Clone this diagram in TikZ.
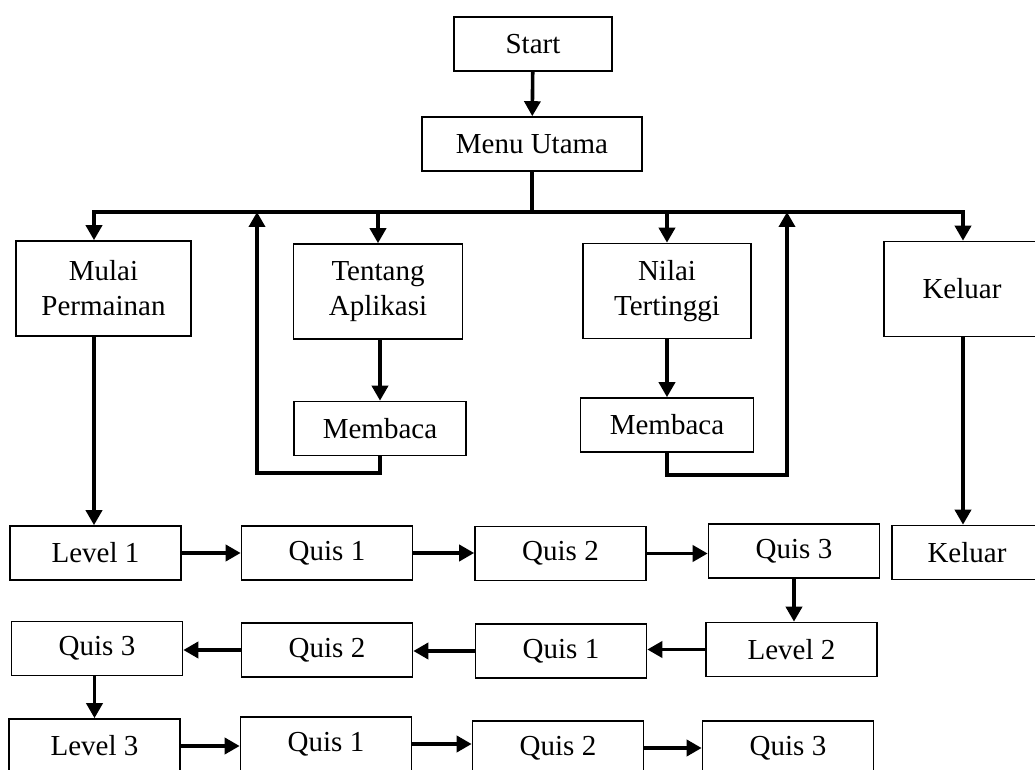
\documentclass[tikz,border=0pt]{standalone}
\usepackage{fontspec}
\setmainfont{Liberation Serif}
\usetikzlibrary{arrows.meta}

\begin{document}
\begin{tikzpicture}[x=0.5pt,y=-0.5pt]
                        \tikzstyle{box}=[draw,line width=0.8pt,inner sep=0pt,align=center,font=\fontsize{14.5}{17.5}\selectfont]
                        \tikzstyle{small}=[box,minimum width=85.5pt,minimum height=27pt]
                        \tikzstyle{tall}=[box,minimum width=85pt,minimum height=47.5pt]
                        \tikzstyle{arr}=[line width=1.8pt,-{Triangle[width=8pt,length=7.5pt]}]
                        \clip[use as bounding box] (0,0) rectangle (1035,770);
                        \node[box,minimum width=79pt,minimum height=27pt] (start) at (533,44) {Start};
                        \node[box,minimum width=110pt,minimum height=27pt] (menu) at (532,144) {Menu Utama};
                        \node[tall,minimum width=87.5pt] (mulai) at (103.5,288.5) {Mulai\\Permainan};
                        \node[tall,minimum width=84.5pt] (tentang) at (378,291.5) {Tentang\\Aplikasi};
                        \node[small,minimum width=86pt] (membacaA) at (380,428.5) {Membaca};
                        \node[tall,minimum width=84pt] (nilai) at (667,291) {Nilai\\Tertinggi};
                        \node[small,minimum width=86.5pt] (membacaB) at (667,425) {Membaca};
                        \node[tall,minimum width=78pt] (keluarA) at (962,289) {Keluar};
                        \node[small,minimum width=75pt] (keluarB) at (967,552.5) {Keluar};
                        \node[small] (level1) at (95.5,553) {Level 1};
                        \node[small] (quisA1) at (327,553) {Quis 1};
                        \node[small] (quisA2) at (560.5,553.5) {Quis 2};
                        \node[small] (quisA3) at (794,551) {Quis 3};
                        \node[small] (level2) at (791.5,649.5) {Level 2};
                        \node[small] (quisB1) at (561,651) {Quis 1};
                        \node[small] (quisB2) at (327,650) {Quis 2};
                        \node[small] (quisB3) at (97,648.5) {Quis 3};
                        \node[small] (level3) at (94.5,746) {Level 3};
                        \node[small] (quisC1) at (326,744) {Quis 1};
                        \node[small] (quisC2) at (558,748) {Quis 2};
                        \node[small] (quisC3) at (788,748) {Quis 3};
                        \coordinate (busL) at (94,212);
                        \coordinate (busR) at (963,212);
                        \coordinate (backA) at (257,473);
                        \coordinate (backB) at (787,475);
                        \draw[arr] (start) -- (menu);
                        \draw[arr] (menu.south) |- (busL) -- (busL |- mulai.north);
                        \draw[arr] (menu.south) |- (busR) -- (busR |- keluarA.north);
                        \draw[arr] (tentang.north |- busL) -- (tentang.north);
                        \draw[arr] (nilai.north |- busL) -- (nilai.north);
                        \draw[arr] (tentang.south -| membacaA.north) -- (membacaA.north);
                        \draw[arr] (nilai) -- (membacaB);
                        \draw[arr] (membacaA.south) |- (backA) -- (backA |- busL);
                        \draw[arr] (membacaB.south) |- (backB) -- (backB |- busR);
                        \draw[arr] (busL |- mulai.south) -- (busL |- level1.north);
                        \draw[arr] (busR |- keluarA.south) -- (busR |- keluarB.north);
                        \draw[arr] (level1.east) -- (level1.east -| quisA1.west);
                        \draw[arr] (quisA1.east) -- (quisA1.east -| quisA2.west);
                        \draw[arr] (quisA2.east) -- (quisA2.east -| quisA3.west);
                        \draw[arr] (quisA3.south) -- (quisA3.south |- level2.north);
                        \draw[arr] (level2.west) -- (level2.west -| quisB1.east);
                        \draw[arr] (quisB1.west) -- (quisB1.west -| quisB2.east);
                        \draw[arr] (quisB2.west) -- (quisB2.west -| quisB3.east);
                        \draw[arr] (level3.north |- quisB3.south) -- (level3.north);
                        \draw[arr] (level3.east) -- (level3.east -| quisC1.west);
                        \draw[arr] (quisC1.east) -- (quisC1.east -| quisC2.west);
                        \draw[arr] (quisC2.east) -- (quisC2.east -| quisC3.west);
                    \end{tikzpicture}
\end{document}
